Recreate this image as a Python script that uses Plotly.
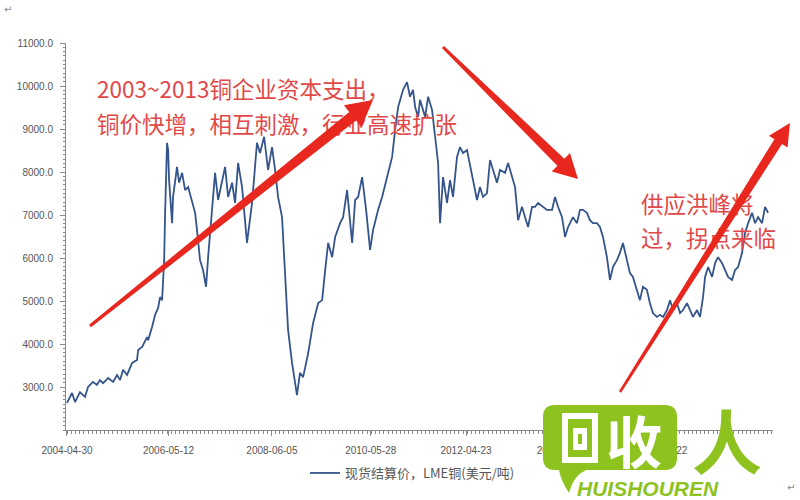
import math
import plotly.graph_objects as go

# ---------------- data ----------------
dates = [
    "2004-04-30", "2004-06-06", "2004-06-28", "2004-08-03", "2004-09-09", "2004-10-01", "2004-11-06", "2004-12-05",
    "2004-12-27", "2005-01-19", "2005-02-25", "2005-04-02", "2005-05-01", "2005-05-23", "2005-06-14", "2005-07-13",
    "2005-08-19", "2005-09-24", "2005-10-02", "2005-10-31", "2005-12-06", "2005-12-14", "2006-01-12", "2006-02-03",
    "2006-02-25", "2006-03-11", "2006-03-26", "2006-04-10", "2006-04-17", "2006-05-01", "2006-05-09", "2006-05-16",
    "2006-06-07", "2006-06-14", "2006-07-13", "2006-07-28", "2006-08-19", "2006-09-10", "2006-10-02", "2006-10-31",
    "2006-11-22", "2006-12-06", "2006-12-28", "2007-01-19", "2007-02-10", "2007-02-25", "2007-03-26", "2007-04-17",
    "2007-05-09", "2007-06-07", "2007-06-29", "2007-07-21", "2007-08-19", "2007-09-10", "2007-10-02", "2007-10-31",
    "2007-11-22", "2007-12-06", "2008-01-12", "2008-02-17", "2008-03-10", "2008-04-09", "2008-05-08", "2008-06-06",
    "2008-06-28", "2008-07-20", "2008-08-18", "2008-09-09", "2008-10-01", "2008-10-30", "2008-11-21", "2008-12-05",
    "2008-12-27", "2009-01-19", "2009-02-25", "2009-04-02", "2009-05-09", "2009-06-07", "2009-06-29", "2009-07-21",
    "2009-08-19", "2009-09-10", "2009-10-16", "2009-11-07", "2009-12-06", "2010-01-12", "2010-02-03", "2010-02-25",
    "2010-03-26", "2010-04-24", "2010-05-23", "2010-06-14", "2010-07-21", "2010-08-19", "2010-09-24", "2010-10-31",
    "2010-11-22", "2010-12-14", "2011-01-19", "2011-02-17", "2011-03-11", "2011-04-02", "2011-04-17", "2011-05-09",
    "2011-05-23", "2011-06-29", "2011-07-21", "2011-08-19", "2011-09-10", "2011-10-02", "2011-10-16", "2011-11-07",
    "2011-12-06", "2011-12-28", "2012-01-19", "2012-02-17", "2012-03-10", "2012-04-01", "2012-04-30", "2012-05-22",
    "2012-06-13", "2012-07-12", "2012-08-03", "2012-08-25", "2012-09-23", "2012-10-15", "2012-11-06", "2012-12-05",
    "2012-12-27", "2013-02-02", "2013-02-24", "2013-03-25", "2013-04-16", "2013-05-08", "2013-06-06", "2013-06-28",
    "2013-07-20", "2013-08-18", "2013-09-09", "2013-10-01", "2013-11-06", "2013-12-05", "2014-01-11", "2014-02-02",
    "2014-02-24", "2014-03-25", "2014-04-16", "2014-05-08", "2014-06-13", "2014-07-12", "2014-08-03", "2014-08-25",
    "2014-09-23", "2014-10-15", "2014-11-06", "2014-12-05", "2014-12-27", "2015-01-18", "2015-02-16", "2015-03-10",
    "2015-04-01", "2015-04-30", "2015-05-22", "2015-06-13", "2015-07-12", "2015-08-03", "2015-08-25", "2015-09-23",
    "2015-10-15", "2015-11-06", "2015-12-05", "2015-12-27", "2016-01-18", "2016-02-16", "2016-03-10", "2016-04-01",
    "2016-04-30", "2016-05-22", "2016-06-13", "2016-07-12", "2016-08-03", "2016-08-25", "2016-09-23", "2016-10-15",
    "2016-11-06", "2016-12-05", "2016-12-27", "2017-01-18", "2017-02-02", "2017-02-24", "2017-03-25", "2017-04-16",
    "2017-05-08", "2017-06-06", "2017-06-28", "2017-07-20", "2017-08-18", "2017-09-09", "2017-10-01", "2017-10-30",
    "2017-11-21", "2017-12-13", "2018-01-11", "2018-02-02", "2018-02-24", "2018-03-25", "2018-04-16", "2018-05-08",
]
price = [
    2630, 2860, 2650, 2880, 2770, 3000, 3120, 3050,
    3160, 3090, 3210, 3120, 3280, 3160, 3400, 3280,
    3560, 3630, 3860, 3930, 4160, 4090, 4400, 4680,
    4840, 5090, 5020, 5950, 7050, 8680, 8510, 7810,
    6810, 7420, 8120, 7750, 7980, 7580, 7650, 7280,
    7050, 6650, 5950, 5720, 5330, 6020, 7050, 7980,
    7350, 7750, 8120, 7420, 7750, 7280, 8210, 7650,
    6810, 6350, 7280, 8680, 8440, 8820, 8050, 8580,
    8050, 7420, 6950, 5720, 4330, 3560, 3090, 2810,
    3330, 3230, 3790, 4490, 4950, 5020, 5720, 6350,
    6020, 6490, 6810, 6950, 7580, 6350, 7350, 7420,
    7880, 7120, 6190, 6650, 7120, 7420, 7880, 8350,
    8980, 9510, 9910, 10090, 9750, 9910, 9510, 9280,
    9680, 9280, 9750, 9440, 8820, 8210, 6810, 7880,
    7280, 7810, 7420, 8350, 8580, 8440, 8510, 8120,
    7810, 7350, 7650, 7420, 7510, 8280, 8050, 7750,
    8050, 7980, 8210, 7880, 7650, 6880, 7190, 6950,
    6720, 7190, 7190, 7280, 7190, 7120, 7120, 7420,
    7190, 6950, 6490, 6720, 6950, 6810, 7120, 7120,
    7050, 6880, 6810, 6810, 6720, 6490, 6020, 5490,
    5790, 5950, 6120, 6350, 5950, 5650, 5560, 5260,
    5020, 5330, 5260, 4950, 4720, 4630, 4680, 4630,
    4790, 5020, 4790, 4950, 4720, 4790, 4950, 4790,
    4630, 4790, 4630, 5090, 5560, 5790, 5560, 5880,
    6020, 5880, 5720, 5560, 5490, 5720, 5790, 6120,
    6580, 6810, 7050, 6810, 6950, 6810, 7190, 7050,
]
series_name = "现货结算价，LME铜(美元/吨)"
x_tick_dates = ["2004-04-30", "2006-05-12", "2008-06-05", "2010-05-28", "2012-04-23", "2014-03-27", "2016-03-22"]
x_tick_labels = ["2004-04-30", "2006-05-12", "2008-06-05", "2010-05-28", "2012-04-23", "2014-03-27", "2016-03-22"]
y_ticks = [3000, 4000, 5000, 6000, 7000, 8000, 9000, 10000, 11000]
y_tick_labels = ["3000.0", "4000.0", "5000.0", "6000.0", "7000.0", "8000.0", "9000.0", "10000.0", "11000.0"]
notes = ["2003~2013铜企业资本支出，", "铜价快增，相互刺激，行业高速扩张", "供应过剩，铜价下跌", "供应洪峰将", "过，拐点来临"]

# ---------------- layout geometry ----------------
W, H = 800, 500
ML, MR, MT, MB = 66, 27, 43, 70
PW, PH = W - ML - MR, H - MT - MB


def fx(x):
    return (x - ML) / PW


def fy(y):
    return (H - MB - y) / PH


def pt(x, y):
    return f"{fx(x):.4f},{fy(y):.4f}"


def arrow_path(tail, tip, w0, w1, hl, hw):
    (x0, y0), (x1, y1) = tail, tip
    dx, dy = x1 - x0, y1 - y0
    L = math.hypot(dx, dy)
    ux, uy = dx / L, dy / L
    nx, ny = -uy, ux
    bx, by = x1 - hl * ux, y1 - hl * uy
    pts = [(x0 + nx * w0 / 2, y0 + ny * w0 / 2), (bx + nx * w1 / 2, by + ny * w1 / 2),
           (bx + nx * hw, by + ny * hw), (x1, y1), (bx - nx * hw, by - ny * hw),
           (bx - nx * w1 / 2, by - ny * w1 / 2), (x0 - nx * w0 / 2, y0 - ny * w0 / 2)]
    return "M " + " L ".join(pt(a, b) for a, b in pts) + " Z"


def poly(pts):
    return "M " + " L ".join(pt(a, b) for a, b in pts) + " Z"


RED_TXT = "#e24848"
RED_ARW = "#e8271f"
GREEN = "#8dc21f"
CJK = "Noto Sans CJK SC"

fig = go.Figure()
fig.add_trace(go.Scatter(
    x=dates, y=price, mode="lines", name=series_name,
    line=dict(color="#34558b", width=1.8), hoverinfo="skip",
))

# red commentary text (as text traces so the arrows sit on top, as in the original)
note_pos = [(97, 92), (97, 127), (494, 40), (641, 207), (641, 241)]
fig.add_trace(go.Scatter(
    x=[p[0] for p in note_pos], y=[p[1] for p in note_pos], xaxis="x2", yaxis="y2",
    mode="text", text=notes, textposition="middle right", cliponaxis=False,
    textfont=dict(family=CJK, size=22.5, color=RED_TXT), showlegend=False, hoverinfo="skip",
))

shapes = []
# arrows
for tail, tip, w0, w1, hl, hw in [((90, 326), (373, 100), 3, 11, 26, 14),
                                  ((443, 47), (578, 179), 3, 10, 24, 13),
                                  ((620, 392), (790, 123), 2.5, 9, 22, 11)]:
    shapes.append(dict(type="path", xref="paper", yref="paper", layer="above",
                       path=arrow_path(tail, tip, w0, w1, hl, hw),
                       fillcolor=RED_ARW, line=dict(width=0)))

# watermark logo bubble
bubble = (f"M {pt(555,405)} L {pt(665,405)} Q {pt(677,405)} {pt(677,417)} L {pt(677,458)} "
          f"Q {pt(677,470)} {pt(665,470)} L {pt(586,470)} Q {pt(573,476)} {pt(569,493)} "
          f"Q {pt(561,481)} {pt(559,470)} L {pt(555,470)} Q {pt(543,470)} {pt(543,458)} "
          f"L {pt(543,417)} Q {pt(543,405)} {pt(555,405)} Z")
shapes.append(dict(type="path", xref="paper", yref="paper", layer="above", path=bubble,
                   fillcolor=GREEN, line=dict(width=0)))
for (x0, y0, x1, y1, col) in [(562, 413, 598, 463, "white"), (568, 419, 592, 457, GREEN),
                              (573, 428, 587, 450, "white"), (578, 434, 582, 444, GREEN)]:
    shapes.append(dict(type="path", xref="paper", yref="paper", layer="above",
                       path=poly([(x0, y0), (x1, y0), (x1, y1), (x0, y1)]),
                       fillcolor=col, line=dict(width=0)))


def ann(x, y, text, font):
    return dict(x=fx(x), y=fy(y), xref="paper", yref="paper", text=text, showarrow=False,
                xanchor="center", yanchor="middle", font=font)


annotations = [
    ann(634, 438, "收", dict(family=CJK, size=56, color="white", weight="bold")),
    ann(727, 438, "人", dict(family=CJK, size=70, color=GREEN, weight="bold")),
    ann(648, 488, "HUISHOUREN", dict(family="Liberation Sans", size=21, color=GREEN, weight="bold", style="italic")),
    ann(8, 9, "↵", dict(family="DejaVu Sans", size=10, color="#888")),
    ann(791, 487, "↵", dict(family="DejaVu Sans", size=10, color="#888")),
]

axis_col = "#8a8a8a"
fig.update_layout(
    width=W, height=H,
    margin=dict(l=ML, r=MR, t=MT, b=MB, pad=0, autoexpand=False),
    paper_bgcolor="white", plot_bgcolor="white",
    showlegend=True,
    legend=dict(orientation="h", x=fx(305), y=fy(473), xanchor="left", yanchor="middle",
                font=dict(family=CJK, size=13, color="#555"), bgcolor="rgba(0,0,0,0)"),
    xaxis=dict(
        type="date", range=["2004-04-23", "2018-06-13"],
        tickmode="array", tickvals=x_tick_dates, ticktext=x_tick_labels,
        showgrid=False, zeroline=False, showline=True, linecolor=axis_col, linewidth=1,
        ticks="outside", ticklen=5, tickcolor=axis_col, ticklabelstandoff=6,
        tickfont=dict(family="Liberation Sans", size=10, color="#555"),
        minor=dict(ticks="outside", ticklen=2.5, tickcolor=axis_col, dtick="M1",
                   tick0="2004-05-01", showgrid=False),
    ),
    yaxis=dict(
        range=[2000, 11000], tickmode="array", tickvals=y_ticks, ticktext=y_tick_labels,
        showgrid=False, zeroline=False, showline=True, linecolor=axis_col, linewidth=1,
        ticks="outside", ticklen=5, tickcolor=axis_col, ticklabelstandoff=5,
        tickfont=dict(family="Liberation Sans", size=10, color="#555"),
        minor=dict(ticks="outside", ticklen=2.5, tickcolor=axis_col, tickmode="linear",
                   tick0=2000, dtick=100, showgrid=False),
    ),
    xaxis2=dict(overlaying="x", anchor="y2", range=[ML, W - MR], visible=False, fixedrange=True),
    yaxis2=dict(overlaying="y", anchor="x2", range=[H - MB, MT], visible=False, fixedrange=True),
    shapes=shapes,
    annotations=annotations,
)

fig.write_html("out.html", config={"displayModeBar": False},
               post_script="document.body.style.margin='0';document.body.style.padding='0';")
